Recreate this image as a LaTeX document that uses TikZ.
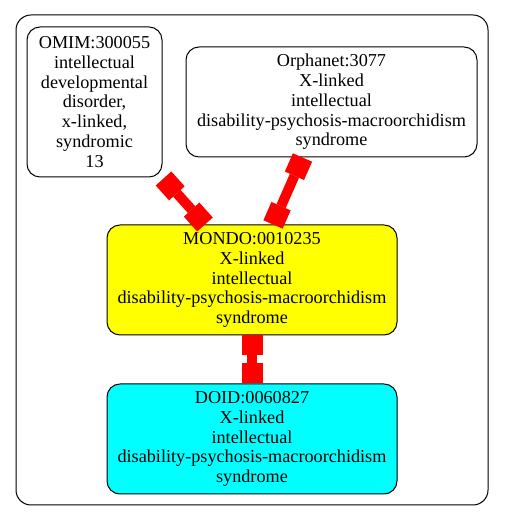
\documentclass[tikz,border=0pt]{standalone}
\usepackage{fontspec}
\setmainfont{Liberation Serif}
\usetikzlibrary{arrows.meta}
\definecolor{mondofill}{RGB}{255,255,0}
\definecolor{doidfill}{RGB}{0,255,255}
\definecolor{linkred}{RGB}{255,0,0}

\begin{document}
\begin{tikzpicture}[x=1pt,y=1pt,every node/.style={font=\fontsize{18.2}{19.7}\selectfont},
  term/.style={draw,line width=1pt,rounded corners=13pt,align=center,inner sep=0pt},
  link/.style={draw=linkred,line width=10pt,
    {Square[length=20pt,width=21pt,line width=0pt]}-{Square[length=20pt,width=21pt,line width=0pt]}}]
\useasboundingbox (0,0) rectangle (504,521);
\draw[line width=1pt,rounded corners=15pt] (16,16) rectangle (488,506);
\node[term,minimum width=135pt,minimum height=150pt] (omim) at (94.5,419) {OMIM:300055\\intellectual\\developmental\\disorder,\\x-linked,\\syndromic\\13};
\node[term,minimum width=291pt,minimum height=110pt] (orpha) at (331.5,419) {Orphanet:3077\\X-linked\\intellectual\\disability-psychosis-macroorchidism\\syndrome};
\node[term,fill=mondofill,minimum width=290pt,minimum height=110pt] (mondo) at (252,241) {MONDO:0010235\\X-linked\\intellectual\\disability-psychosis-macroorchidism\\syndrome};
\node[term,fill=doidfill,minimum width=290pt,minimum height=110pt] (doid) at (252,82) {DOID:0060827\\X-linked\\intellectual\\disability-psychosis-macroorchidism\\syndrome};
\draw[link] ([shift={(1,-1)}]omim.south east) -- ([xshift=-47pt]mondo.north);
\draw[link] ([xshift=-29pt]orpha.south) -- ([xshift=21pt]mondo.north);
\draw[link] (mondo.south) -- (doid.north);
\end{tikzpicture}
\end{document}
